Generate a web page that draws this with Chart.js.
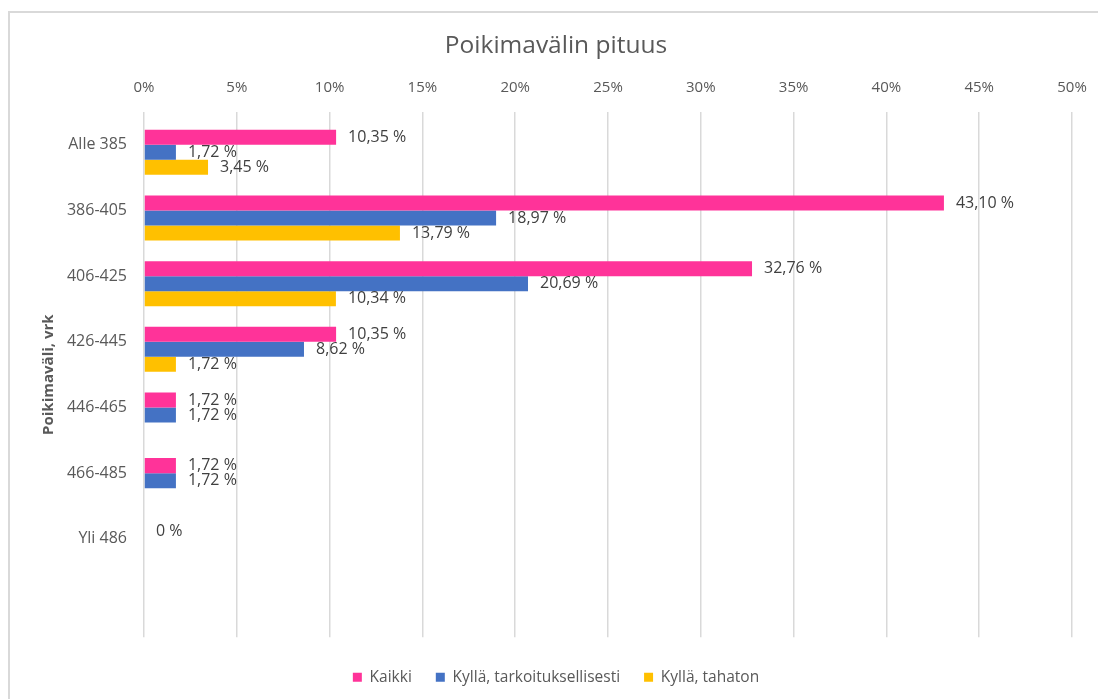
<!DOCTYPE html>
<html>
<head>
<meta charset="utf-8">
<script src="https://cdn.jsdelivr.net/npm/chart.js@4/dist/chart.umd.min.js"></script>
<style>
  body { margin: 0; background: #fff; }
  #wrap { position: relative; width: 1098px; height: 699px; overflow: hidden; }
  #frame { position: absolute; left: 8px; top: 11px; width: 1200px; height: 800px;
           border-left: 2px solid #d9d9d9; border-top: 2px solid #d9d9d9; }
  #chart { position: absolute; left: 0; top: 0; }
</style>
</head>
<body>
<div id="wrap">
  <div id="frame"></div>
  <canvas id="chart" width="1098" height="699"></canvas>
</div>
<script>
// luokat (viimeinen tyhjä rivi kuten alkuperäisessä)
const categories = ["Alle 385", "386-405", "406-425", "426-445", "446-465", "466-485", "Yli 486", ""];
const kaikki = [10.35, 43.10, 32.76, 10.35, 1.72, 1.72, 0, null];
const tarkoituksellisesti = [1.72, 18.97, 20.69, 8.62, 1.72, 1.72, null, null];
const tahaton = [3.45, 13.79, 10.34, 1.72, null, null, null, null];
const spacer = [null, null, null, null, null, null, null, null];
const xTicks = [0, 5, 10, 15, 20, 25, 30, 35, 40, 45, 50];

const FONT = "'Open Sans', sans-serif";
const TEXT = "#595959";

function fmt(v) {
  if (v === 0) return "0 %";
  return v.toFixed(2).replace(".", ",") + " %";
}

// arvolaput palkkien perään
const valueLabels = {
  id: "valueLabels",
  afterDatasetsDraw(chart) {
    const ctx = chart.ctx;
    ctx.save();
    ctx.font = "16px " + FONT;
    ctx.fillStyle = "#404040";
    ctx.textAlign = "left";
    ctx.textBaseline = "middle";
    chart.data.datasets.forEach((ds, i) => {
      if (i === 0) return;
      const meta = chart.getDatasetMeta(i);
      meta.data.forEach((el, j) => {
        const v = ds.data[j];
        if (v === null || v === undefined) return;
        ctx.fillText(fmt(v), el.x + 12, el.y);
      });
    });
    ctx.restore();
  },
};

new Chart(document.getElementById("chart"), {
  type: "bar",
  data: {
    labels: categories,
    datasets: [
      { label: "", data: spacer, backgroundColor: "rgba(0,0,0,0)" },
      { label: "Kaikki", data: kaikki, backgroundColor: "#ff3399" },
      { label: "Kyllä, tarkoituksellisesti", data: tarkoituksellisesti, backgroundColor: "#4472c4" },
      { label: "Kyllä, tahaton", data: tahaton, backgroundColor: "#ffc000" },
    ],
  },
  options: {
    indexAxis: "y",
    responsive: false,
    animation: false,
    categoryPercentage: 0.915,
    barPercentage: 1,
    layout: { padding: { top: 12, left: 40, right: 26, bottom: 4 } },
    plugins: {
      title: {
        display: true,
        text: "Poikimavälin pituus",
        color: TEXT,
        font: { family: FONT, size: 24.5, weight: "normal" },
        padding: { top: 19.3, bottom: 0 },
      },
      legend: {
        position: "bottom",
        title: { display: true, text: "", font: { size: 1 }, padding: { top: 7, bottom: 0 } },
        labels: {
          filter: (item) => item.text !== "",
          color: TEXT,
          font: { family: FONT, size: 15.5 },
          boxWidth: 9,
          boxHeight: 9,
          padding: 24,
        },
      },
      tooltip: { enabled: false },
    },
    scales: {
      x: {
        position: "top",
        min: 0,
        max: 50,
        afterBuildTicks: (scale) => {
          scale.ticks = xTicks.map((v) => ({ value: v }));
        },
        afterFit: (scale) => {
          scale.height = 51.3;
          scale.paddingLeft = 0;
          scale.paddingRight = 0;
        },
        ticks: {
          color: TEXT,
          font: { family: FONT, size: 15 },
          padding: 15,
          callback: (v) => v + "%",
        },
        grid: { color: "#d9d9d9", lineWidth: 1.5, drawTicks: false },
        border: { display: false },
      },
      y: {
        afterFit: (scale) => {
          scale.width = 104;
        },
        ticks: {
          color: TEXT,
          font: { family: FONT, size: 16 },
          padding: 17,
        },
        grid: { display: false, drawTicks: false },
        border: { display: false },
        title: {
          display: true,
          text: "Poikimaväli, vrk",
          color: TEXT,
          font: { family: FONT, size: 15, weight: "bold" },
          padding: 0,
        },
      },
    },
  },
  plugins: [valueLabels],
});
</script>
</body>
</html>
